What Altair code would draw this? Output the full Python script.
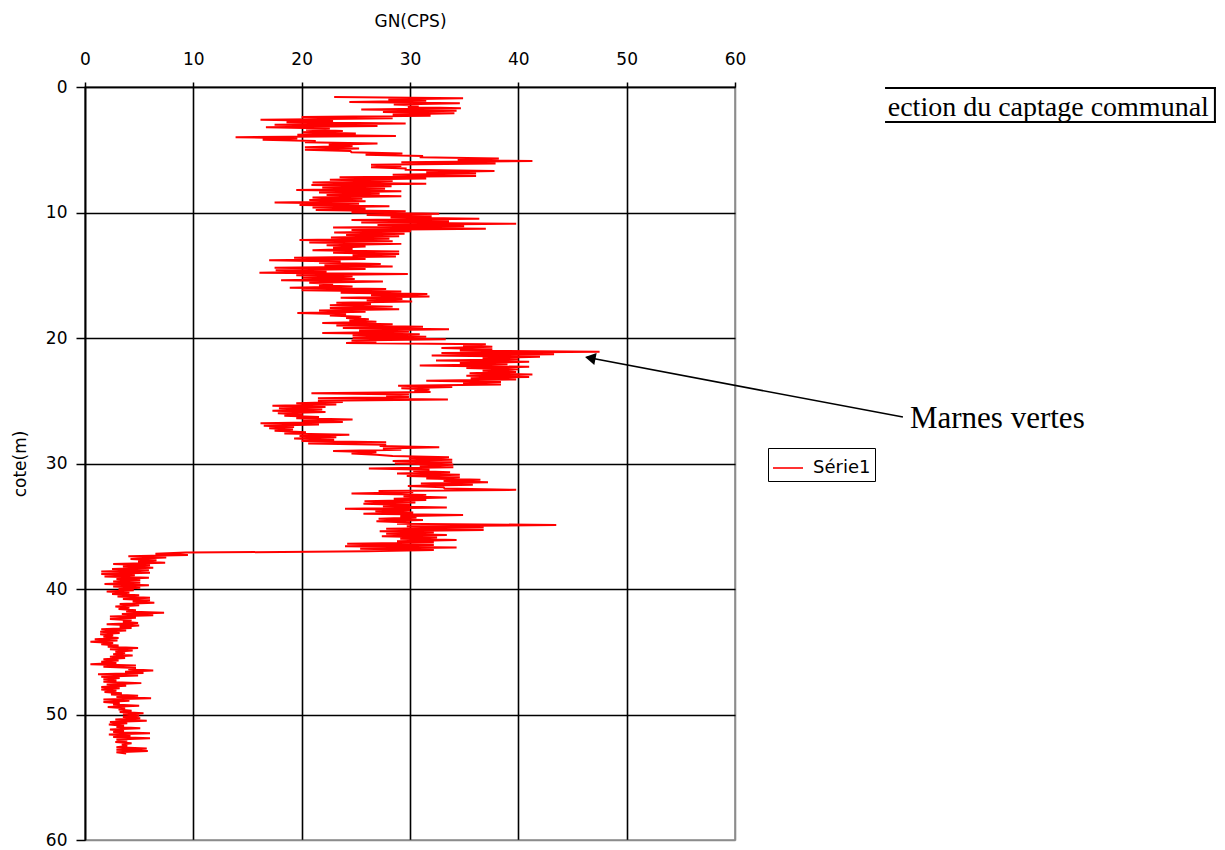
import altair as alt
import pandas as pd

# GN (CPS) readings, two readings per 0.2 m depth step (0.1 m apart)
gn_0_10 = [
    23.0, 34.9, 28.0, 31.5, 24.4, 34.6, 28.5, 30.8, 29.8, 34.7,
    25.5, 34.3, 27.5, 34.1, 28.4, 31.9, 20.0, 28.4, 16.2, 22.9,
    18.6, 29.6, 17.5, 27.0, 16.7, 22.6, 20.4, 23.8, 20.1, 25.0,
    19.6, 28.7, 13.9, 19.6, 16.4, 21.3, 20.3, 27.0, 22.5, 24.7,
    20.3, 25.3, 20.3, 24.5, 24.6, 29.3, 25.9, 31.2, 30.9, 38.2,
    34.4, 41.3, 29.2, 37.9, 26.4, 29.2, 26.4, 29.6, 29.6, 37.8,
    31.5, 36.1, 28.4, 36.1, 23.5, 31.5, 22.6, 28.4, 21.0, 31.5,
    20.9, 28.3, 21.9, 27.7, 19.5, 29.2, 21.6, 27.2, 22.3, 29.2,
    21.0, 25.6, 20.7, 25.9, 17.5, 25.3, 19.8, 28.1, 21.0, 25.9,
    21.3, 29.6, 24.6, 32.7,
]
gn_10_20 = [
    26.0, 32.0, 28.2, 36.4, 24.6, 33.6, 25.5, 39.8, 27.0, 35.0,
    22.9, 37.0, 24.6, 30.1, 23.0, 29.5, 24.1, 29.0, 22.7, 28.1,
    19.8, 28.4, 20.7, 29.2, 22.3, 25.9, 22.9, 24.7, 21.0, 29.0,
    22.9, 29.0, 24.7, 28.7, 19.3, 25.9, 17.0, 23.6, 21.6, 27.3,
    22.1, 28.4, 17.5, 25.9, 17.6, 22.3, 16.1, 29.8, 19.5, 24.7,
    20.1, 24.9, 18.1, 27.5, 20.7, 22.9, 21.6, 24.7, 18.9, 27.8,
    20.0, 29.2, 23.6, 31.6, 26.4, 31.8, 23.6, 29.3, 26.0, 30.2,
    23.2, 26.4, 22.6, 28.4, 22.6, 29.0, 21.6, 25.9, 19.6, 24.1,
    22.6, 25.5, 24.1, 26.2, 24.4, 26.9, 21.9, 28.4, 23.2, 31.2,
    23.8, 33.6, 25.3, 29.9, 21.9, 30.9, 24.7, 31.5,
]
gn_20_30 = [
    24.7, 33.3, 24.6, 26.9, 24.1, 37.0, 34.9, 37.6, 32.9, 37.6,
    34.6, 47.5, 32.9, 43.3, 32.0, 42.0, 36.7, 40.0, 32.4, 41.0,
    34.6, 39.0, 30.9, 41.0, 35.2, 40.0, 36.7, 39.8, 35.5, 41.3,
    35.2, 41.0, 35.6, 39.8, 31.5, 38.4, 34.9, 38.4, 28.9, 33.9,
    29.2, 31.8, 30.4, 31.9, 20.9, 29.9, 27.8, 29.9, 21.5, 33.5,
    21.5, 23.8, 19.5, 23.2, 17.3, 22.2, 17.9, 21.9, 17.3, 22.2,
    17.8, 20.1, 18.4, 21.6, 19.5, 24.7, 20.1, 23.8, 16.2, 21.6,
    16.5, 19.3, 17.0, 19.2, 17.5, 20.4, 18.4, 24.4, 19.8, 23.2,
    19.3, 23.0, 20.0, 27.8, 20.6, 27.8, 27.2, 32.7, 27.5, 29.2,
    22.9, 26.9, 24.6, 26.9, 28.4, 33.6, 29.9, 33.9, 28.4, 33.9,
]
gn_30_40 = [
    28.6, 34.0, 30.9, 34.0, 26.2, 31.8, 30.3, 33.7, 28.8, 34.6,
    29.7, 34.6, 31.5, 36.5, 33.1, 37.2, 31.0, 35.8, 29.8, 33.1,
    33.2, 39.8, 27.1, 30.3, 24.6, 31.5, 29.4, 33.4, 28.5, 31.5,
    25.8, 30.5, 25.7, 30.0, 27.5, 33.4, 24.0, 30.0, 26.8, 30.3,
    25.7, 34.9, 29.1, 30.6, 27.1, 31.2, 26.9, 30.0, 28.8, 43.5,
    29.7, 36.8, 27.8, 36.8, 27.2, 32.2, 27.8, 33.4, 27.4, 32.5,
    29.1, 34.3, 28.8, 32.2, 24.2, 32.2, 24.0, 34.3, 25.4, 32.2,
    26.0, 9.3, 6.5, 9.5, 4.0, 7.5, 4.2, 6.6, 4.9, 7.4,
    2.6, 6.0, 3.5, 6.3, 2.5, 5.9, 1.5, 6.0, 1.5, 4.6,
    1.8, 5.9, 2.9, 5.1, 2.6, 5.1, 1.8, 5.9, 2.6, 5.1,
]
gn_40_50 = [
    3.1, 4.5, 2.0, 4.1, 2.5, 5.0, 3.0, 6.0, 3.5, 6.0,
    4.4, 6.4, 3.2, 5.0, 2.8, 4.1, 3.1, 4.7, 3.8, 7.3,
    3.4, 6.3, 2.3, 4.7, 2.3, 4.3, 3.5, 4.9, 2.0, 5.0,
    3.2, 4.3, 1.5, 3.8, 1.4, 3.2, 1.4, 2.6, 1.7, 3.1,
    0.9, 3.0, 0.5, 2.6, 1.5, 3.1, 2.1, 4.9, 2.3, 4.4,
    2.8, 3.7, 2.6, 4.4, 2.3, 3.7, 1.7, 3.1, 1.5, 2.9,
    0.5, 4.7, 1.7, 4.7, 4.0, 6.3, 3.7, 5.4, 1.2, 4.9,
    1.5, 3.2, 1.7, 2.9, 1.7, 5.2, 2.0, 3.8, 1.5, 3.2,
    1.5, 2.9, 1.8, 3.4, 2.4, 4.9, 2.9, 6.1, 1.7, 4.1,
    1.7, 3.2, 2.6, 5.0, 2.1, 3.7, 3.1, 4.3, 3.2, 5.4,
    3.5, 5.0,
]
gn_50_53 = [
    3.5, 5.1, 2.8, 5.7, 2.3, 3.9, 2.2, 3.6, 2.9, 5.1,
    2.3, 3.6, 2.6, 6.0, 2.2, 4.2, 2.6, 6.0, 2.9, 3.9,
    2.8, 4.3, 3.4, 3.9, 2.9, 5.7, 2.9, 5.8, 2.9, 3.8,
]
block_start_depth = [0.8, 10.2, 20.0, 30.0, 40.0, 50.2]
blocks = [gn_0_10, gn_10_20, gn_20_30, gn_30_40, gn_40_50, gn_50_53]
depth_step = 0.1

tick_values = [0, 10, 20, 30, 40, 50, 60]
series_name = "Série1"

rows = []
for start, vals in zip(block_start_depth, blocks):
    for i, v in enumerate(vals):
        rows.append({"depth": round(start + depth_step * i, 2), "gn": v, "series": series_name})
df = pd.DataFrame(rows)

# Annotations (in data coordinates)
arrow_df = pd.DataFrame({"gn": [75.5, 46.3], "depth": [26.3, 21.54], "k": [0, 1]})
head_df = pd.DataFrame({"gn": [46.64], "depth": [21.59]})
label_df = pd.DataFrame({"gn": [76.15], "depth": [27.17], "text": ["Marnes vertes"]})
title_df = pd.DataFrame({"gn": [74.1], "depth": [2.35], "text": ["ection du captage communal"]})
box_h_df = pd.DataFrame({"gn": [73.85, 73.85], "gn2": [104.4, 104.4], "depth": [0.08, 2.79]})
box_v_df = pd.DataFrame({"gn": [104.3], "depth": [0.08], "depth2": [2.79]})

FONT = "DejaVu Sans"
xscale = alt.Scale(domain=[0, 60], nice=False, zero=False)
yscale = alt.Scale(domain=[0, 60], nice=False, zero=False, reverse=True)

grid_color = {"condition": {"test": "datum.value === 60", "value": "#8c8c8c"}, "value": "black"}

x_axis = alt.Axis(
    orient="top", values=tick_values, title="GN(CPS)", grid=True, labelFlush=False,
    gridColor=grid_color, gridWidth=1.6, tickSize=5, tickColor="black", tickWidth=1.5,
    domainColor="black", domainWidth=1.6, labelPadding=14, titlePadding=20,
    labelFont=FONT, labelFontSize=17, labelColor="black",
    titleFont=FONT, titleFontSize=17, titleFontWeight="normal", titleColor="black",
)
y_axis = alt.Axis(
    orient="left", values=tick_values, title="cote(m)", grid=True, labelFlush=False,
    gridColor=grid_color, gridWidth=1.6, tickSize=9, tickColor="black", tickWidth=1.5,
    domainColor="black", domainWidth=1.6, labelPadding=9, titlePadding=16,
    labelFont=FONT, labelFontSize=17, labelColor="black",
    titleFont=FONT, titleFontSize=17, titleFontWeight="normal", titleColor="black",
)

line = alt.Chart(df).mark_line(strokeWidth=2).encode(
    x=alt.X("gn:Q", scale=xscale, axis=x_axis),
    y=alt.Y("depth:Q", scale=yscale, axis=y_axis),
    order=alt.Order("depth:Q"),
    color=alt.Color(
        "series:N",
        scale=alt.Scale(domain=[series_name], range=["#ff0000"]),
        legend=alt.Legend(
            title=None, orient="none", legendX=683, legendY=361,
            strokeColor="black", fillColor="white", padding=4,
            symbolType="stroke", symbolSize=900, symbolStrokeWidth=1.6,
            labelFont=FONT, labelFontSize=18, labelColor="black", labelOffset=9,
        ),
    ),
)

arrow = alt.Chart(arrow_df).mark_line(color="black", strokeWidth=1.6).encode(
    x=alt.X("gn:Q", scale=xscale), y=alt.Y("depth:Q", scale=yscale), order="k:Q"
)
head = alt.Chart(head_df).mark_point(
    shape="triangle-up", filled=True, size=150, angle=281, color="black", opacity=1
).encode(x=alt.X("gn:Q", scale=xscale), y=alt.Y("depth:Q", scale=yscale))
label = alt.Chart(label_df).mark_text(
    align="left", baseline="alphabetic", font="Liberation Serif", fontSize=31, color="black"
).encode(x=alt.X("gn:Q", scale=xscale), y=alt.Y("depth:Q", scale=yscale), text="text:N")
title_txt = alt.Chart(title_df).mark_text(
    align="left", baseline="alphabetic", font="Liberation Serif", fontSize=28, color="black"
).encode(x=alt.X("gn:Q", scale=xscale), y=alt.Y("depth:Q", scale=yscale), text="text:N")
box_h = alt.Chart(box_h_df).mark_rule(color="black", strokeWidth=2).encode(
    x=alt.X("gn:Q", scale=xscale), x2="gn2:Q", y=alt.Y("depth:Q", scale=yscale)
)
box_v = alt.Chart(box_v_df).mark_rule(color="black", strokeWidth=2).encode(
    x=alt.X("gn:Q", scale=xscale), y=alt.Y("depth:Q", scale=yscale), y2="depth2:Q"
)

chart = alt.layer(line, arrow, head, label, title_txt, box_h, box_v).properties(
    width=650, height=753,
    padding={"left": 77, "top": 79, "right": 482, "bottom": 10},
    autosize=alt.AutoSizeParams(type="none"),
    background="white",
).configure_view(stroke="#8c8c8c", strokeWidth=1.6)

chart.save("out.html", embed_options={"renderer": "svg", "actions": False})
